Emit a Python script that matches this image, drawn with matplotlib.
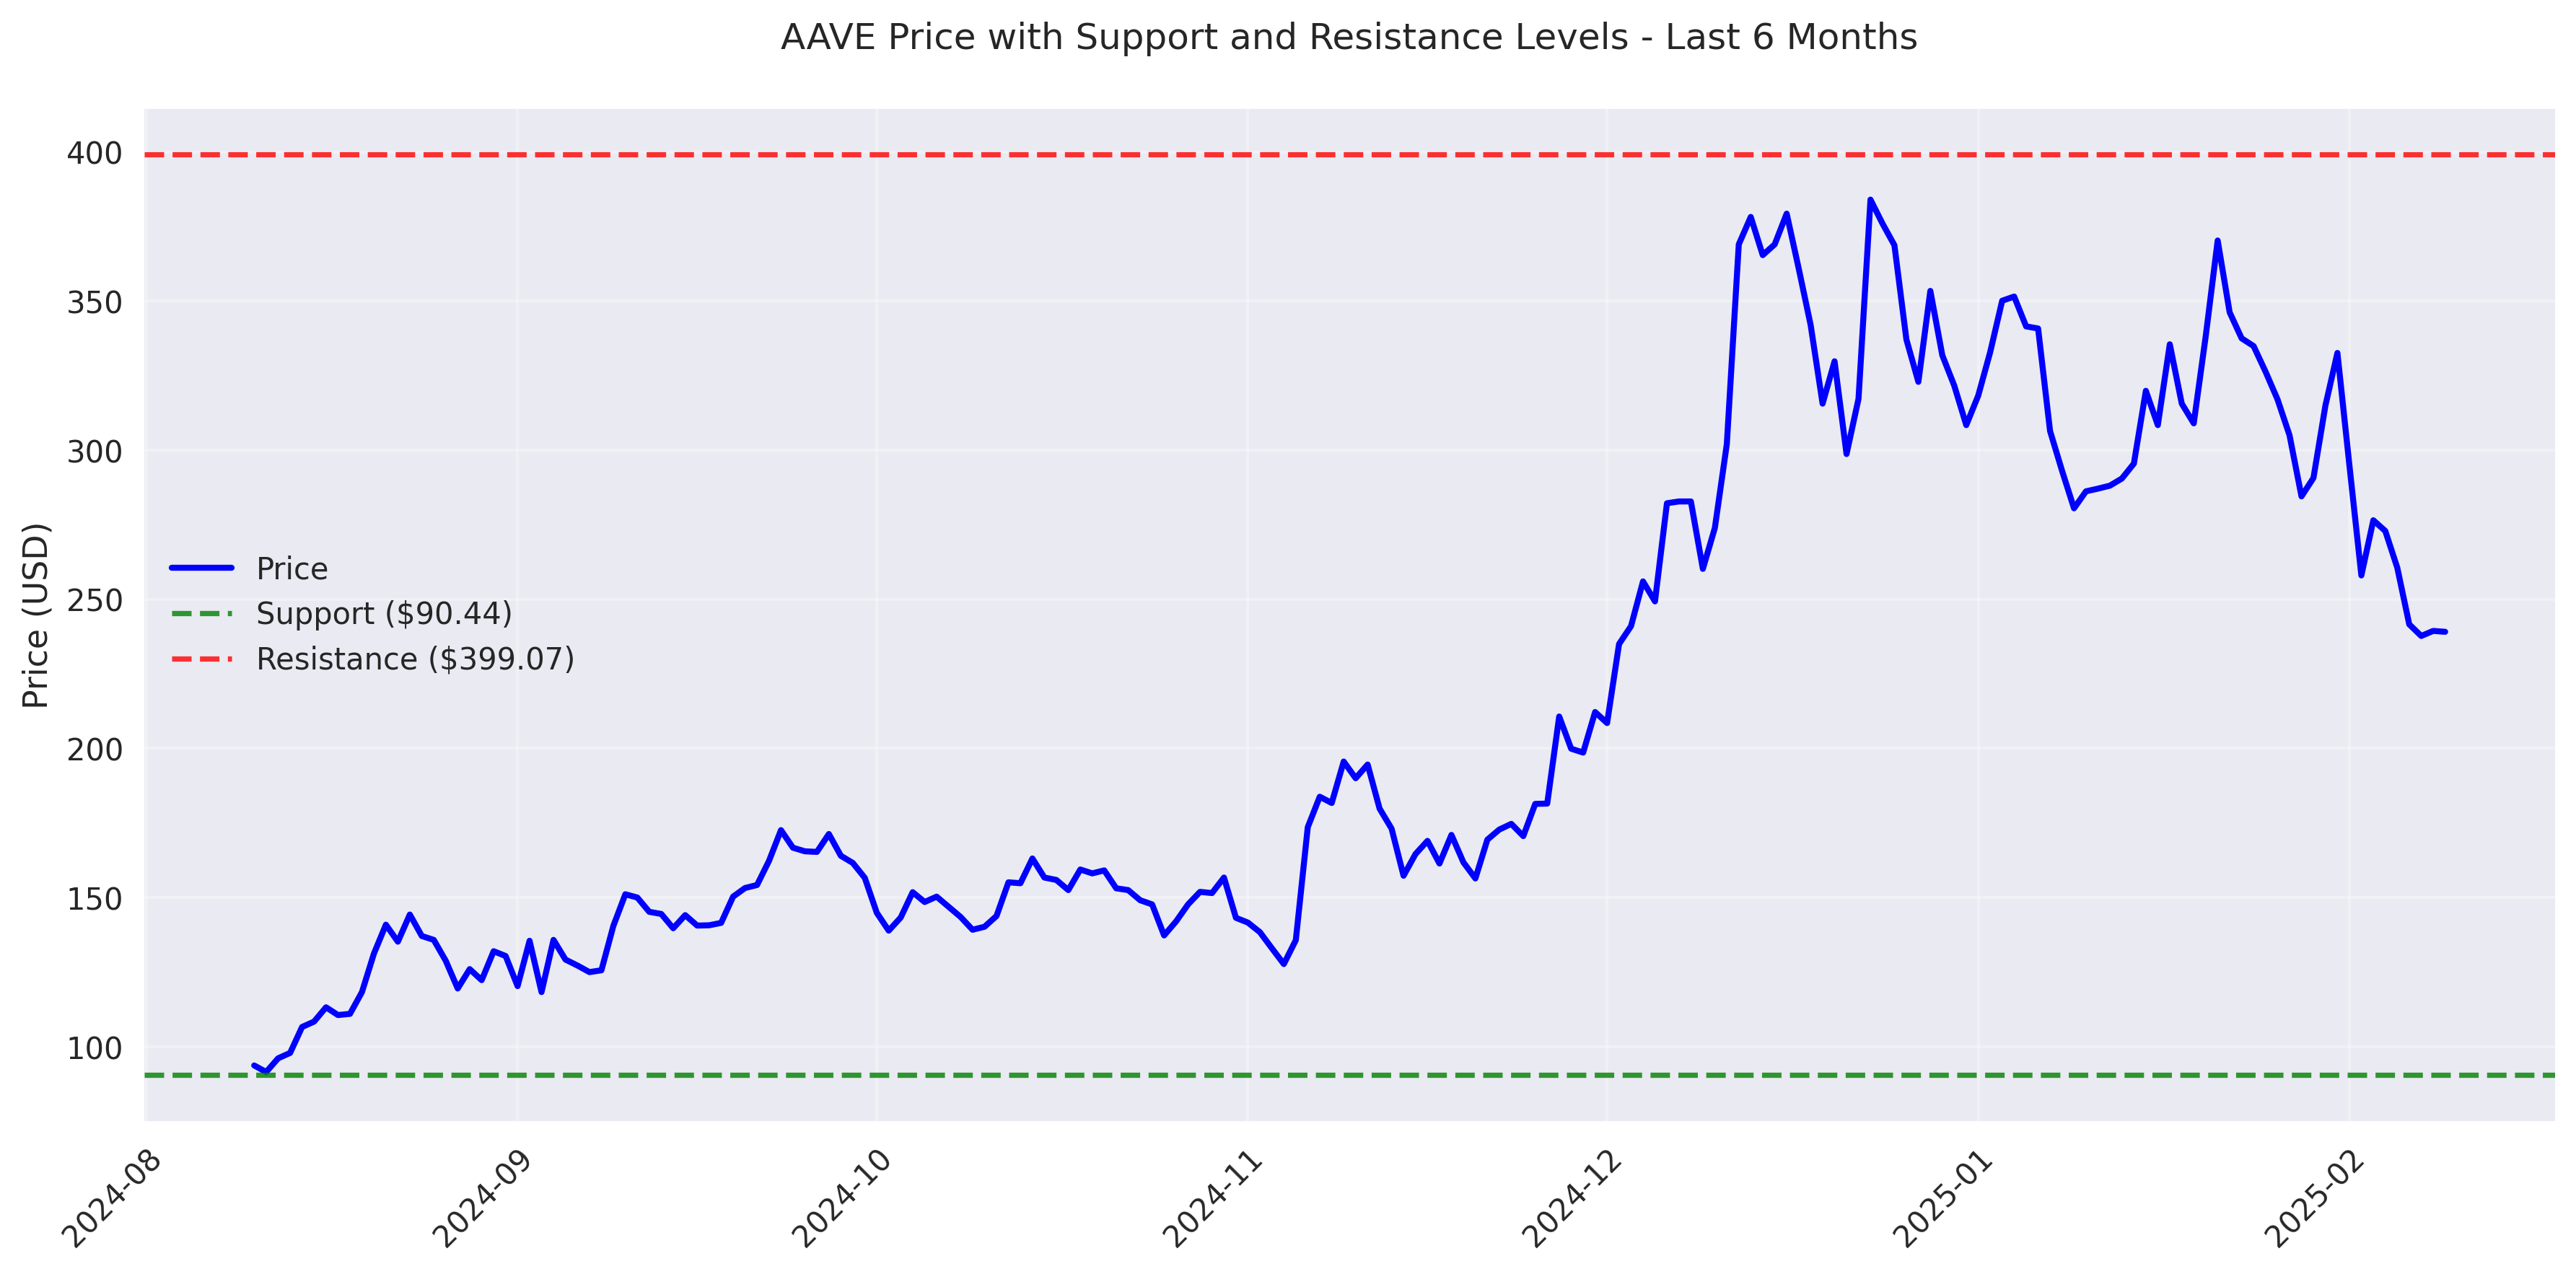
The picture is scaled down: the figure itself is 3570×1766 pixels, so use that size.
import matplotlib
matplotlib.use("Agg")
import matplotlib.pyplot as plt
import matplotlib.dates as mdates
import numpy as np
import pandas as pd

start_date = "2024-08-10"
end_date = "2025-02-09"

prices_aug = [93.7, 91.5, 96.1, 97.9, 106.6, 108.4, 113.2, 110.6, 111.0, 118.3, 131.2,
              140.9, 135.2, 144.3, 137.1, 135.8, 128.8, 119.5, 126.0, 122.3, 132.0, 130.4]
prices_sep = [120.3, 135.5, 118.3, 135.8, 129.2, 127.2, 125.0, 125.6, 140.5, 151.1,
              150.0, 145.2, 144.5, 139.7, 144.1, 140.6, 140.7, 141.5, 150.3, 153.2,
              154.2, 162.3, 172.6, 166.7, 165.5, 165.3, 171.3, 164.0, 161.6, 156.6]
prices_oct = [144.9, 138.9, 143.3, 151.8, 148.5, 150.3, 146.9, 143.5, 139.2, 140.2,
              143.8, 155.1, 154.8, 163.1, 156.7, 155.9, 152.5, 159.4, 158.1, 159.1,
              153.1, 152.5, 149.1, 147.7, 137.3, 142.0, 147.7, 151.9, 151.5, 156.7, 143.2]
prices_nov = [141.6, 138.4, 133.0, 127.7, 135.7, 173.6, 183.8, 181.7, 195.6, 190.0,
              194.6, 179.8, 173.1, 157.3, 164.6, 169.0, 161.4, 171.0, 161.8, 156.4,
              169.4, 172.8, 174.7, 170.6, 181.4, 181.5, 210.7, 199.9, 198.6, 212.2]
prices_dec = [208.5, 235.0, 241.0, 256.0, 249.3, 282.2, 282.8, 282.8, 260.2, 273.9,
              302.0, 369.0, 378.2, 365.4, 369.0, 379.3, 361.0, 342.0, 315.6, 329.8,
              298.7, 317.2, 384.0, 376.0, 368.7, 337.1, 322.9, 353.4, 331.8, 321.6, 308.4]
prices_jan = [318.3, 332.9, 350.1, 351.5, 341.5, 340.8, 306.4, 293.1, 280.5, 286.2,
              287.1, 288.1, 290.5, 295.5, 319.9, 308.4, 335.5, 315.6, 309.0, 338.2,
              370.3, 346.2, 337.5, 334.9, 326.3, 317.0, 305.0, 284.5, 290.7, 315.0, 332.6]
prices_feb = [295.0, 258.0, 276.5, 272.9, 260.6, 241.6, 237.7, 239.4, 239.1]

support_level = 90.44
resistance_level = 399.07

prices = prices_aug + prices_sep + prices_oct + prices_nov + prices_dec + prices_jan + prices_feb
dates = pd.date_range(start_date, end_date, freq="D")

plt.style.use("seaborn-v0_8")
plt.rcParams['font.family'] = ['DejaVu Sans']

fig, ax = plt.subplots(figsize=(12, 6))
ax.plot(dates, prices, color="blue", linewidth=2, label="Price")
ax.axhline(support_level, color="green", linestyle="--", linewidth=1.75, alpha=0.8,
           label=f"Support (${support_level:.2f})")
ax.axhline(resistance_level, color="red", linestyle="--", linewidth=1.75, alpha=0.8,
           label=f"Resistance (${resistance_level:.2f})")

ax.set_title("AAVE Price with Support and Resistance Levels - Last 6 Months", fontsize=12, pad=20)
ax.set_ylabel("Price (USD)")
ax.xaxis.set_major_locator(mdates.MonthLocator())
ax.xaxis.set_major_formatter(mdates.DateFormatter("%Y-%m"))
plt.setp(ax.get_xticklabels(), rotation=45, ha="right", rotation_mode="anchor")
ax.grid(True, alpha=0.3)
ax.legend(loc="center left")
plt.tight_layout()
fig.savefig("out.png", dpi=300, bbox_inches="tight")
